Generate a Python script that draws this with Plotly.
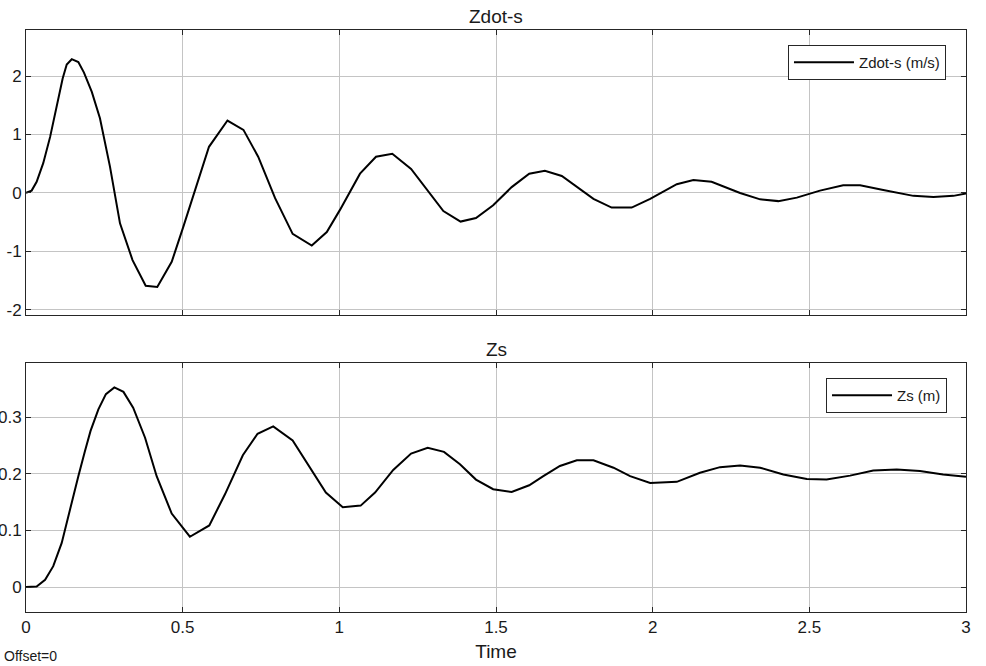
from plotly.subplots import make_subplots
import plotly.graph_objects as go

# Zdot-s (m/s) samples
t_zdot = [0.0, 0.018, 0.034, 0.055, 0.077, 0.098, 0.117, 0.130, 0.146, 0.167,
          0.185, 0.210, 0.236, 0.268, 0.300, 0.340, 0.382, 0.419, 0.465, 0.502,
          0.584, 0.643, 0.694, 0.741, 0.795, 0.851, 0.912, 0.960, 1.002, 1.066,
          1.117, 1.169, 1.229, 1.332, 1.387, 1.436, 1.491, 1.550, 1.606, 1.656,
          1.710, 1.811, 1.869, 1.933, 1.992, 2.077, 2.130, 2.188, 2.279, 2.343,
          2.401, 2.460, 2.534, 2.608, 2.662, 2.736, 2.832, 2.896, 2.960, 3.0]
zdot = [0.0, 0.04, 0.19, 0.51, 0.96, 1.51, 1.96, 2.20, 2.29, 2.24,
        2.06, 1.73, 1.28, 0.45, -0.52, -1.15, -1.59, -1.61, -1.18, -0.58,
        0.79, 1.24, 1.08, 0.62, -0.09, -0.70, -0.90, -0.67, -0.29, 0.33,
        0.62, 0.67, 0.41, -0.31, -0.49, -0.43, -0.21, 0.10, 0.33, 0.38,
        0.29, -0.10, -0.25, -0.25, -0.10, 0.15, 0.22, 0.19, 0.0, -0.11,
        -0.14, -0.08, 0.04, 0.13, 0.13, 0.05, -0.05, -0.07, -0.05, -0.01]

# Zs (m) samples
t_zs = [0.0, 0.034, 0.061, 0.087, 0.114, 0.140, 0.167, 0.188, 0.206, 0.231,
        0.255, 0.282, 0.311, 0.342, 0.380, 0.417, 0.465, 0.523, 0.585, 0.635,
        0.692, 0.739, 0.789, 0.851, 0.906, 0.957, 1.011, 1.068, 1.114, 1.172,
        1.229, 1.282, 1.334, 1.385, 1.436, 1.491, 1.550, 1.606, 1.651, 1.704,
        1.758, 1.811, 1.875, 1.928, 1.992, 2.077, 2.151, 2.215, 2.279, 2.343,
        2.417, 2.492, 2.555, 2.630, 2.704, 2.779, 2.853, 2.927, 3.0]
zs = [0.0, 0.001, 0.013, 0.037, 0.078, 0.137, 0.196, 0.240, 0.276, 0.314,
      0.341, 0.353, 0.345, 0.317, 0.264, 0.196, 0.130, 0.089, 0.109, 0.164,
      0.233, 0.271, 0.284, 0.259, 0.211, 0.167, 0.141, 0.144, 0.167, 0.207,
      0.236, 0.246, 0.239, 0.217, 0.190, 0.173, 0.168, 0.180, 0.196, 0.214,
      0.224, 0.224, 0.211, 0.196, 0.184, 0.186, 0.202, 0.212, 0.215, 0.211,
      0.199, 0.191, 0.190, 0.197, 0.206, 0.208, 0.205, 0.199, 0.195]

x_ticks = [0, 0.5, 1, 1.5, 2, 2.5, 3]
x_tick_labels = ['0', '0.5', '1', '1.5', '2', '2.5', '3']
zdot_ticks = [-2, -1, 0, 1, 2]
zdot_tick_labels = ['-2', '-1', '0', '1', '2']
zs_ticks = [0, 0.1, 0.2, 0.3]
zs_tick_labels = ['0', '0.1', '0.2', '0.3']

FONT = 'Arial, Liberation Sans, sans-serif'
FRAME = '#262626'
GRID = '#c4c4c4'

fig = make_subplots(rows=2, cols=1)

fig.add_trace(
    go.Scatter(x=t_zdot, y=zdot, mode='lines', name='Zdot-s (m/s)',
               line=dict(color='black', width=2), legend='legend'),
    row=1, col=1
)
fig.add_trace(
    go.Scatter(x=t_zs, y=zs, mode='lines', name='Zs (m)',
               line=dict(color='black', width=2), legend='legend2'),
    row=2, col=1
)

axis_style = dict(
    showline=True, linecolor=FRAME, linewidth=1, mirror='ticks',
    ticks='inside', ticklen=5, tickcolor=FRAME, automargin=False,
    showgrid=True, gridcolor=GRID, gridwidth=1, zeroline=False,
    tickfont=dict(family=FONT, size=17, color='#1a1a1a'),
)

fig.update_xaxes(range=[0, 3], tickvals=x_ticks, ticktext=x_tick_labels, **axis_style)
fig.update_xaxes(showticklabels=False, row=1, col=1)
fig.update_xaxes(title_text='Time', title_standoff=8,
                 title_font=dict(family=FONT, size=19, color='#1a1a1a'), row=2, col=1)

fig.update_yaxes(**axis_style)
fig.update_yaxes(range=[-2.09, 2.79], tickvals=zdot_ticks, ticktext=zdot_tick_labels,
                 domain=[0.5103, 1.0], row=1, col=1)
fig.update_yaxes(range=[-0.044, 0.396], tickvals=zs_ticks, ticktext=zs_tick_labels,
                 domain=[0.0, 0.4278], row=2, col=1)

fig.update_layout(
    width=986, height=666,
    margin=dict(l=26, r=20, t=30, b=54),
    paper_bgcolor='white', plot_bgcolor='white',
    font=dict(family=FONT, size=17, color='#1a1a1a'),
    showlegend=True,
    legend=dict(x=0.9787, y=0.9742, xanchor='right', yanchor='top',
                bgcolor='white', bordercolor=FRAME, borderwidth=1,
                font=dict(family=FONT, size=15), itemwidth=60),
    legend2=dict(x=0.9798, y=0.402, xanchor='right', yanchor='top',
                 bgcolor='white', bordercolor=FRAME, borderwidth=1,
                 font=dict(family=FONT, size=15), itemwidth=60),
    annotations=[
        dict(text='Zdot-s', x=0.5, y=1.0, xref='paper', yref='paper',
             xanchor='center', yanchor='bottom', yshift=1, showarrow=False,
             font=dict(family=FONT, size=19)),
        dict(text='Zs', x=0.5, y=0.4278, xref='paper', yref='paper',
             xanchor='center', yanchor='bottom', yshift=1, showarrow=False,
             font=dict(family=FONT, size=19)),
        dict(text='Offset=0', x=-0.026, y=0, xref='paper', yref='paper',
             xanchor='left', yanchor='top', yshift=-34, showarrow=False,
             font=dict(family=FONT, size=14)),
    ],
)

# drop the page's default body margin so the figure sits at the window corner
fig.write_html('out.html', config={'displayModeBar': False},
               post_script="document.body.style.margin='0';")
